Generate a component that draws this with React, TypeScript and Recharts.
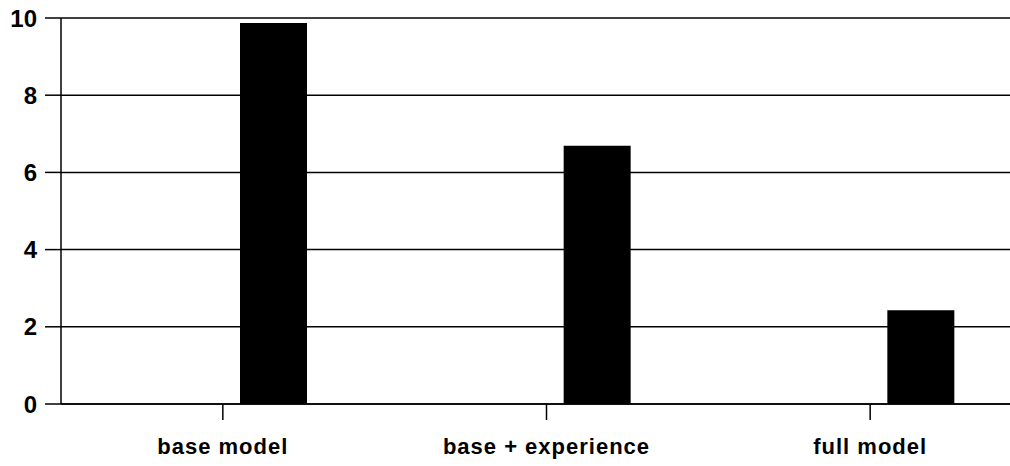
import { Bar, BarChart, CartesianGrid, XAxis, YAxis } from "recharts"

const categories = ["base model", "base + experience", "full model"]
// the original has an empty first series, so the black bars sit right of each tick
const emptySeries = [0, 0, 0]
const values = [9.87, 6.69, 2.43]
const yTicks = [0, 2, 4, 6, 8, 10]

const data = categories.map((name, i) => ({
  name,
  empty: emptySeries[i],
  value: values[i]
}))

const font = "Arial, 'Liberation Sans', sans-serif"

const App = () => {
  return (
    <div
      style={{
        position: "absolute",
        left: 0,
        top: 0,
        width: 1010,
        height: 466,
        overflow: "hidden",
        background: "#fff"
      }}
    >
      <BarChart
        width={1032}
        height={466}
        data={data}
        margin={{ top: 18, right: 0, bottom: 0, left: 0 }}
        barSize={67}
        barGap={34}
      >
        <CartesianGrid
          vertical={false}
          stroke="#000"
          strokeWidth={1.5}
        />
        <XAxis
          dataKey="name"
          height={62}
          axisLine={{ stroke: "#000", strokeWidth: 1.5 }}
          tickLine={{ stroke: "#000", strokeWidth: 1.5 }}
          tickSize={16}
          tickMargin={18}
          tick={{
            fill: "#000",
            fontSize: 22,
            fontWeight: "bold",
            fontFamily: font,
            letterSpacing: 1
          }}
        />
        <YAxis
          width={61}
          domain={[0, 10]}
          ticks={yTicks}
          interval={0}
          axisLine={{ stroke: "#000", strokeWidth: 1.5 }}
          tickLine={{ stroke: "#000", strokeWidth: 1.5 }}
          tickSize={16}
          tickMargin={8}
          tick={{
            fill: "#000",
            fontSize: 24,
            fontWeight: "bold",
            fontFamily: font
          }}
        />
        <Bar dataKey="empty" fill="#fff" isAnimationActive={false} />
        <Bar dataKey="value" fill="#000" isAnimationActive={false} />
      </BarChart>
    </div>
  )
}

export default App
